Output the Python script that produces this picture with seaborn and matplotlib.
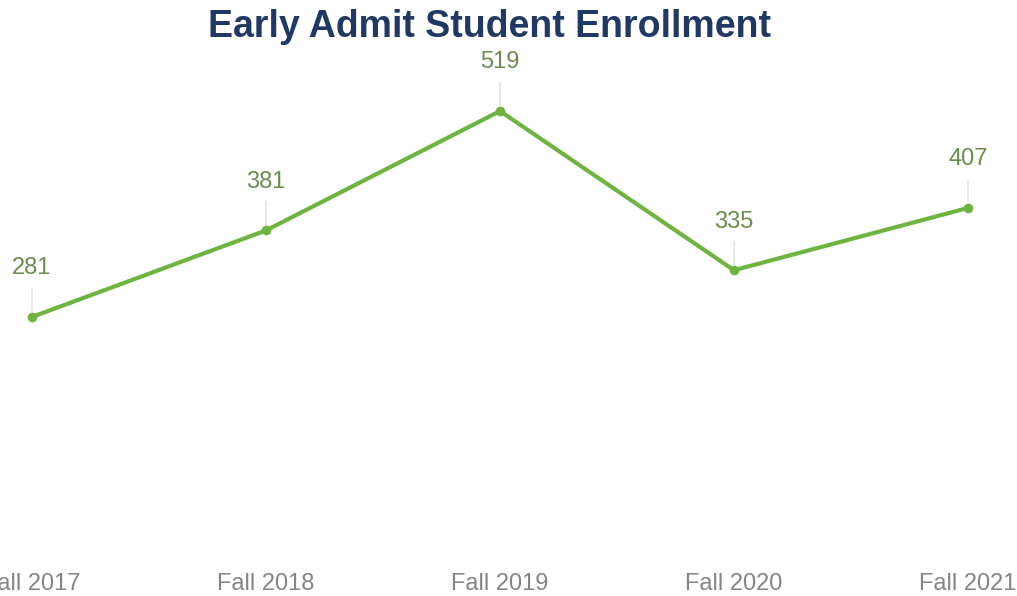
import matplotlib
matplotlib.use("Agg")
import matplotlib.pyplot as plt
import seaborn as sns
import pandas as pd

terms = ["Fall 2017", "Fall 2018", "Fall 2019", "Fall 2020", "Fall 2021"]
enrollment = [281, 381, 519, 335, 407]

title = "Early Admit Student Enrollment"
line_color = "#6fb440"
label_color = "#6a8c4c"
tick_color = "#858585"
title_color = "#1f3864"

sns.set_theme(style="white")
plt.rcParams["font.family"] = ["Liberation Sans", "DejaVu Sans"]

df = pd.DataFrame({"term": terms, "students": enrollment})

fig = plt.figure(figsize=(10.17, 5.96), dpi=100)
ax = fig.add_axes([32 / 1017, 36 / 596, (968 - 32) / 1017, (560 - 41) / 596])

sns.lineplot(data=df, x="term", y="students", ax=ax, color=line_color,
             linewidth=3.0, marker="o", markersize=7, markeredgewidth=0,
             sort=False, clip_on=False)

for i, v in enumerate(enrollment):
    ax.annotate(str(v), xy=(i, v), xytext=(0, 35), textcoords="offset points",
                ha="center", va="center", fontsize=17, color=label_color,
                arrowprops=dict(arrowstyle="-", color="#dcdcdc", lw=0.9,
                                shrinkA=4, shrinkB=4, relpos=(0.5, 0.0)))

ax.set_xlim(0, len(terms) - 1)
ax.set_ylim(0, 600)
ax.set_xlabel("")
ax.set_ylabel("")
ax.set_yticks([])
ax.tick_params(axis="x", length=0, pad=9, labelsize=17, labelcolor=tick_color)
for s in ax.spines.values():
    s.set_visible(False)
ax.grid(False)

fig.text(490 / 1017, 1 - 27 / 596, title, ha="center", va="center",
         fontsize=27, fontweight="bold", color=title_color)

fig.savefig("out.png", dpi=100)
